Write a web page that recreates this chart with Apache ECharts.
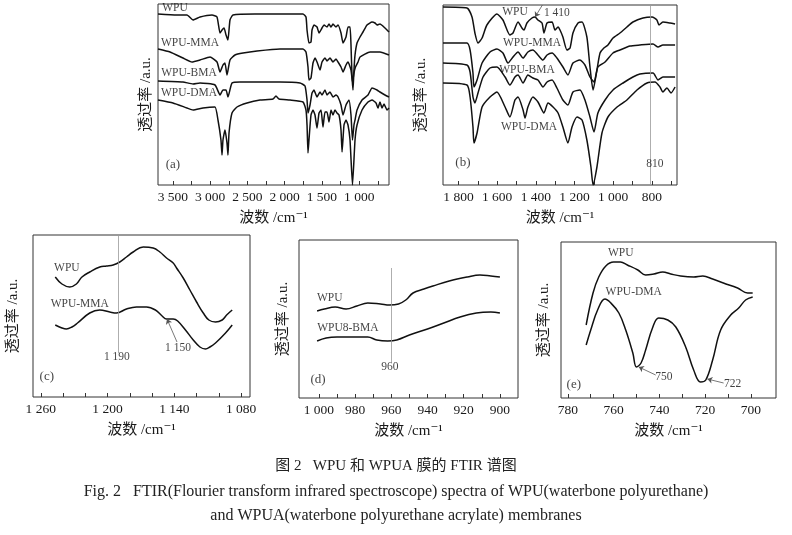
<!DOCTYPE html>
<html>
<head>
<meta charset="utf-8">
<title>FTIR spectra of WPU and WPUA</title>
<script src="https://cdn.jsdelivr.net/npm/echarts@6.0.0/dist/echarts.min.js"></script>
<style>
  html, body { margin: 0; padding: 0; background: #fff; }
  #main { width: 792px; height: 535px; }
</style>
</head>
<body>
<div id="main"></div>
<script>
// wavenumber (cm-1) / transmittance (a.u.) pairs

// (a) full range
var aWPU = [[3700,171],[3450,170],[3311,170],[3230,165],[3136,168],[2975,170],[2908,168],[2868,152],[2841,155],[2814,157],[2787,150],[2761,145],[2734,165],[2694,170],[2400,171],[2063,171],[1754,171],[1714,168],[1700,155],[1674,142],[1647,143],[1633,155],[1607,160],[1566,158],[1539,152],[1499,157],[1472,160],[1432,158],[1405,161],[1378,158],[1352,161],[1311,158],[1284,160],[1244,152],[1217,142],[1177,148],[1150,158],[1123,158],[1110,140],[1097,110],[1083,95],[1070,115],[1056,130],[1029,142],[989,148],[949,153],[895,160],[828,163],[788,162],[761,160],[721,161],[654,157],[600,153]];
var aMMA = [[3700,136],[3539,133],[3365,127],[3244,123],[3136,125],[3002,128],[2908,123],[2868,113],[2828,120],[2801,122],[2774,110],[2734,125],[2667,130],[2559,132],[2371,134],[2063,136],[1754,136],[1714,133],[1687,118],[1674,105],[1647,107],[1620,122],[1593,127],[1566,123],[1526,115],[1499,123],[1459,127],[1432,124],[1392,127],[1352,123],[1311,126],[1284,123],[1244,118],[1217,113],[1177,120],[1150,123],[1110,115],[1090,103],[1070,112],[1050,118],[1016,123],[989,128],[855,133],[721,133],[600,130]];
var aBMA = [[3700,104],[3365,103],[3230,101],[3136,102],[2935,100],[2868,90],[2828,95],[2787,95],[2761,88],[2707,102],[2600,103],[2063,103],[1794,102],[1727,99],[1700,85],[1687,72],[1660,80],[1633,92],[1607,95],[1566,88],[1526,93],[1499,90],[1459,95],[1432,90],[1392,93],[1352,88],[1311,90],[1284,88],[1244,80],[1217,70],[1177,80],[1137,85],[1110,70],[1090,45],[1070,60],[1056,65],[1029,75],[962,85],[882,90],[828,97],[761,95],[721,93],[654,90],[600,88]];
var aDMA = [[3700,85],[3499,82],[3311,77],[3230,75],[3096,77],[2935,78],[2895,65],[2855,45],[2841,30],[2828,45],[2801,55],[2774,42],[2761,30],[2747,52],[2707,72],[2640,78],[2506,82],[2331,85],[2157,86],[2117,89],[2076,86],[1929,85],[1754,83],[1714,75],[1700,60],[1687,32],[1674,45],[1647,70],[1620,75],[1593,70],[1566,57],[1539,72],[1512,75],[1486,58],[1459,73],[1432,73],[1405,63],[1378,75],[1352,70],[1325,75],[1298,72],[1271,70],[1244,55],[1230,33],[1204,60],[1177,65],[1150,60],[1123,45],[1090,0],[1056,45],[1029,60],[962,75],[882,83],[828,85],[774,82],[748,77],[721,83],[694,77],[667,81],[627,75],[600,77]];

// (b) 1 880 - 670
var bWPU = [[1880,178],[1756,177],[1730,168],[1715,152],[1699,142],[1678,147],[1653,160],[1601,171],[1570,165],[1534,150],[1518,152],[1492,163],[1472,157],[1461,155],[1446,162],[1420,167],[1404,168],[1389,165],[1368,162],[1358,152],[1342,162],[1316,163],[1301,155],[1285,158],[1275,155],[1260,148],[1239,135],[1223,137],[1208,152],[1182,162],[1161,163],[1136,148],[1120,118],[1104,95],[1084,115],[1068,132],[1048,137],[1027,140],[1001,147],[965,152],[929,158],[898,163],[846,167],[799,168],[774,165],[763,160],[743,163],[706,162],[680,161]];
var bMMA = [[1880,142],[1756,142],[1740,135],[1725,112],[1720,98],[1704,105],[1678,122],[1637,133],[1601,136],[1570,132],[1544,122],[1518,128],[1492,133],[1466,127],[1441,133],[1415,135],[1389,130],[1363,125],[1342,130],[1316,132],[1291,127],[1260,118],[1234,110],[1208,122],[1172,125],[1146,120],[1120,108],[1099,103],[1079,118],[1042,123],[1001,132],[965,135],[913,139],[862,140],[794,141],[768,138],[743,140],[680,140]];
var bBMA = [[1880,122],[1756,120],[1740,113],[1725,88],[1715,82],[1699,92],[1673,108],[1637,117],[1601,118],[1559,108],[1534,100],[1508,108],[1492,110],[1466,102],[1441,110],[1415,107],[1389,105],[1363,98],[1342,103],[1316,105],[1291,97],[1260,85],[1234,80],[1208,93],[1172,95],[1146,85],[1120,68],[1099,53],[1079,72],[1042,85],[1001,95],[949,102],[898,108],[862,111],[794,112],[768,105],[743,108],[680,108]];
var bDMA = [[1880,102],[1756,100],[1740,88],[1725,58],[1720,42],[1704,52],[1678,78],[1637,88],[1601,93],[1559,78],[1534,68],[1508,85],[1492,88],[1466,75],[1456,67],[1441,78],[1415,88],[1389,83],[1358,72],[1337,82],[1311,78],[1285,72],[1260,58],[1234,42],[1213,58],[1187,68],[1161,65],[1136,45],[1115,18],[1104,0],[1084,18],[1058,52],[1027,68],[980,78],[929,85],[877,95],[825,102],[784,103],[758,98],[743,93],[722,97],[701,92],[680,98]];

// (c) 1 250 - 1 090
var cWPU = [[1247,120],[1241,113],[1234,110],[1228,113],[1223,120],[1216,125],[1207,130],[1201,131],[1195,132],[1189,135],[1183,140],[1177,145],[1168,150],[1159,149],[1153,145],[1147,139],[1141,134],[1138,129],[1132,119],[1126,107],[1120,95],[1114,84],[1109,77],[1103,75],[1097,77],[1093,82],[1088,87]];
var cMMA = [[1247,72],[1241,69],[1237,68],[1232,70],[1227,74],[1216,84],[1207,87],[1198,85],[1192,84],[1183,88],[1174,90],[1165,90],[1157,87],[1151,81],[1147,78],[1141,78],[1137,76],[1130,67],[1123,57],[1117,50],[1112,48],[1108,50],[1103,54],[1094,64],[1088,72]];

// (d) 1 000 - 900
var dWPU = [[1001,87],[997,89],[991,91],[985,89],[979,92],[973,95],[966,94],[961,93],[956,94],[952,98],[948,105],[942,109],[937,112],[928,117],[918,121],[911,123],[905,122],[900,121]];
var dBMA = [[1001,57],[996,60],[990,61],[981,61],[973,61],[968,58],[962,57],[957,58],[950,63],[940,69],[931,75],[922,81],[913,85],[905,86],[900,85]];

// (e) 772 - 699
var eWPU = [[772,73],[769,105],[766.5,121],[763.4,132],[760,136],[757,136],[754,133],[749.4,128],[746,123],[742.4,124],[738.5,126],[735,124],[730.7,122],[725,121],[721,122],[716.7,119],[712,115],[705.8,110],[701.4,105],[699.2,105]];
var eDMA = [[772,53],[770,68],[767,88],[763.8,99],[761.2,95],[757.7,85],[754.7,68],[751.6,45],[750,31],[748,35],[746,48],[743,70],[740.3,80],[736.3,78],[732.8,71],[728.5,51],[725,28],[722,16],[719.7,18],[716.7,38],[713.2,68],[708.8,83],[705.3,90],[702.3,98],[699.2,101]];

// tick marks and tick labels
var aTicks = [3500,3250,3000,2750,2500,2250,2000,1750,1500,1250,1000,750];
var aLabels = [3500,3000,2500,2000,1500,1000];
var bTicks = [1800,1700,1600,1500,1400,1300,1200,1100,1000,900,800,700];
var bLabels = [1800,1600,1400,1200,1000,800];
var cTicks = [1260,1240,1220,1200,1180,1160,1140,1120,1100,1080];
var cLabels = [1260,1200,1140,1080];
var dTicks = [1000,990,980,970,960,950,940,930,920,910,900];
var dLabels = [1000,980,960,940,920,900];
var eTicks = [780,770,760,750,740,730,720,710,700];
var eLabels = [780,760,740,720,700];

var FONT = '"Liberation Serif", "DejaVu Serif", "Noto Sans CJK SC", serif';
var INK = '#111';

function fmtWn(v) {
    if (v >= 1000) {
        var r = String(v % 1000);
        while (r.length < 3) r = '0' + r;
        return Math.floor(v / 1000) + ' ' + r;
    }
    return String(v);
}

var panels = [
    {
        box: { left: 158, top: 4, width: 231, height: 181 },
        range: [600, 3700], yMax: 181, ticks: aTicks, labels: aLabels,
        traces: [aWPU, aMMA, aBMA, aDMA], smooth: 0.15, yNameGap: 4,
        notes: [[3472, 177, 'WPU'], [3271, 142, 'WPU-MMA'], [3284, 112, 'WPU-BMA'], [3284, 92, 'WPU-DMA'], [3499, 20, '(a)', 13]],
        refs: [], leaders: []
    },
    {
        box: { left: 443, top: 5, width: 234, height: 180 },
        range: [670, 1880], yMax: 180, ticks: bTicks, labels: bLabels,
        traces: [bWPU, bMMA, bBMA, bDMA], smooth: 0.2, yNameGap: 14,
        notes: [[1508, 173, 'WPU'], [1291, 172, '1 410'], [1420, 142, 'WPU-MMA'], [1446, 115, 'WPU-BMA'], [1435, 58, 'WPU-DMA'], [1777, 22, '(b)', 13], [784, 21, '810']],
        refs: [[810, 0, 180]],
        leaders: [[1404, 168, 1366, 180]]
    },
    {
        box: { left: 33, top: 235, width: 217, height: 162 },
        range: [1072, 1267], yMax: 162, ticks: cTicks, labels: cLabels,
        traces: [cWPU, cMMA], smooth: 0.4, yNameGap: 12,
        notes: [[1236.6, 129, 'WPU'], [1225, 93, 'WPU-MMA'], [1191.6, 40, '1 190'], [1136.7, 49, '1 150'], [1254.6, 20, '(c)', 13]],
        refs: [[1190, 162, 44]],
        leaders: [[1146.6, 78, 1137.6, 55]]
    },
    {
        box: { left: 299, top: 240, width: 219, height: 158 },
        range: [890, 1011], yMax: 158, ticks: dTicks, labels: dLabels,
        traces: [dWPU, dBMA], smooth: 0.4, yNameGap: 8,
        notes: [[994, 100, 'WPU'], [984, 70, 'WPU8-BMA'], [960.8, 31, '960'], [1000.5, 18, '(d)', 13]],
        refs: [[960, 130, 36]],
        leaders: []
    },
    {
        box: { left: 561, top: 242, width: 215, height: 156 },
        range: [689, 783], yMax: 156, ticks: eTicks, labels: eLabels,
        traces: [eWPU, eDMA], smooth: 0.4, yNameGap: 9,
        notes: [[756.9, 145, 'WPU'], [751.2, 106, 'WPU-DMA'], [738, 21, '750'], [708, 14, '722'], [777.4, 13, '(e)', 13]],
        refs: [],
        leaders: [[749, 31, 741.6, 23], [719, 19, 711.9, 15]]
    }
];

var grids = [], xAxes = [], yAxes = [], series = [];

panels.forEach(function (p, i) {
    grids.push({
        left: p.box.left, top: p.box.top, width: p.box.width, height: p.box.height,
        show: true, borderColor: '#333', borderWidth: 1, backgroundColor: 'transparent'
    });
    xAxes.push({
        gridIndex: i, type: 'value', inverse: true, min: p.range[0], max: p.range[1],
        axisLine: { show: false },
        splitLine: { show: false },
        axisTick: { show: true, inside: true, length: 4, customValues: p.ticks, lineStyle: { color: '#333' } },
        axisLabel: { customValues: p.labels, formatter: fmtWn, fontFamily: FONT, fontSize: 13.5, color: '#1a1a1a', margin: 6 },
        name: '波数 /cm⁻¹', nameLocation: 'middle', nameGap: 26,
        nameTextStyle: { fontFamily: FONT, fontSize: 15, color: '#1a1a1a' }
    });
    yAxes.push({
        gridIndex: i, type: 'value', min: 0, max: p.yMax,
        axisLine: { show: false }, axisTick: { show: false },
        axisLabel: { show: false }, splitLine: { show: false },
        name: '透过率 /a.u.', nameLocation: 'middle', nameGap: p.yNameGap, nameRotate: 90,
        nameTextStyle: { fontFamily: FONT, fontSize: 15, color: '#1a1a1a' }
    });

    p.traces.forEach(function (t) {
        series.push({
            type: 'line', xAxisIndex: i, yAxisIndex: i, data: t,
            symbol: 'none', smooth: p.smooth, silent: true, z: 3,
            lineStyle: { color: INK, width: 1.5 }
        });
    });

    var lines = [];
    p.refs.forEach(function (r) {
        lines.push([{ coord: [r[0], r[1]], symbol: 'none' }, { coord: [r[0], r[2]], symbol: 'none' }]);
    });
    p.leaders.forEach(function (l) {
        lines.push([
            { coord: [l[0], l[1]], symbol: 'arrow', symbolSize: 5, lineStyle: { color: '#555', width: 0.8 } },
            { coord: [l[2], l[3]], symbol: 'none' }
        ]);
    });

    series.push({
        type: 'scatter', xAxisIndex: i, yAxisIndex: i, symbolSize: 0, silent: true, z: 5,
        data: p.notes.map(function (n) {
            return { value: [n[0], n[1]], label: { formatter: n[2], fontSize: n[3] || 11.5 } };
        }),
        label: { show: true, position: 'inside', color: '#111', fontFamily: FONT, fontSize: 11.5 },
        markLine: {
            silent: true, animation: false, symbol: ['none', 'none'],
            label: { show: false },
            lineStyle: { color: '#999', width: 0.8, type: 'solid' },
            data: lines
        }
    });
});

var chart = echarts.init(document.getElementById('main'), null, { renderer: 'canvas' });
chart.setOption({
    animation: false,
    backgroundColor: '#fff',
    title: [
        { text: '图 2   WPU 和 WPUA 膜的 FTIR 谱图', left: 'center', top: 454,
          textStyle: { fontFamily: FONT, fontSize: 15, fontWeight: 'normal', color: '#222' } },
        { text: 'Fig. 2   FTIR(Flourier transform infrared spectroscope) spectra of WPU(waterbone polyurethane)', left: 'center', top: 479,
          textStyle: { fontFamily: FONT, fontSize: 16, fontWeight: 'normal', color: '#222' } },
        { text: 'and WPUA(waterbone polyurethane acrylate) membranes', left: 'center', top: 503,
          textStyle: { fontFamily: FONT, fontSize: 16, fontWeight: 'normal', color: '#222' } }
    ],
    grid: grids,
    xAxis: xAxes,
    yAxis: yAxes,
    series: series
});
</script>
</body>
</html>
